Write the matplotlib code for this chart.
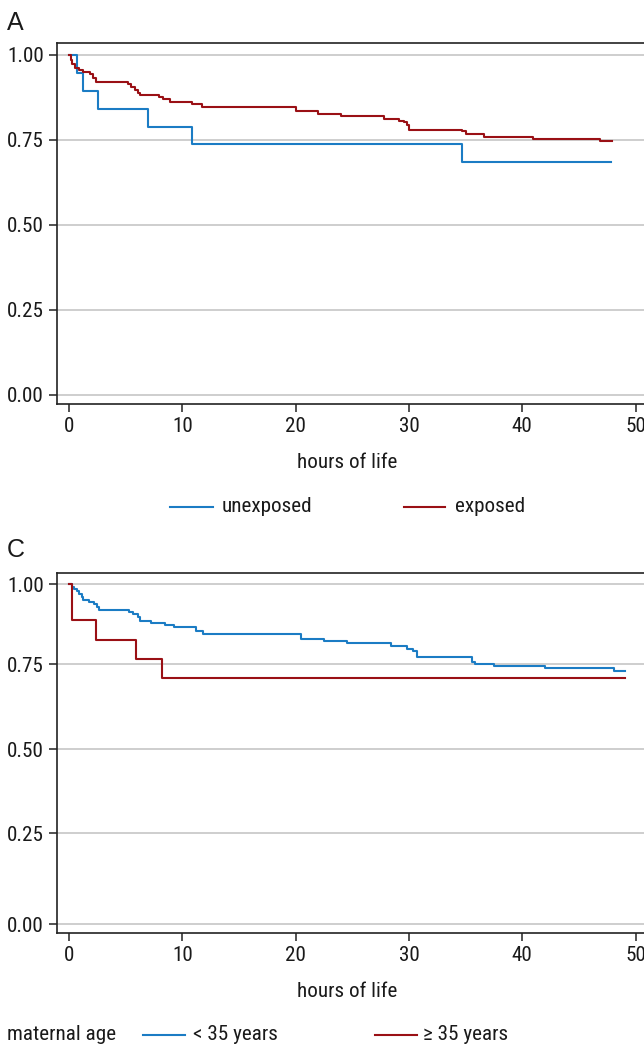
import numpy as np
import matplotlib
matplotlib.use("Agg")
import matplotlib.pyplot as plt
from matplotlib.lines import Line2D
from matplotlib import font_manager as fm

# ---------------- data ----------------
# Panel A: survival by exposure
a_unexp_t = [0, 0.73, 1.2, 2.6, 6.96, 10.9, 34.7, 47.8]
a_unexp_s = [1.0, 0.947, 0.895, 0.842, 0.789, 0.737, 0.684, 0.684]

a_exp_t = [0, 0.2, 0.3, 0.55, 0.9, 1.2, 1.86, 2.15, 2.4, 5.25, 5.5, 5.8, 6.1, 6.3,
           7.96, 8.3, 8.9, 10.9, 11.7, 20.0, 22.0, 24.0, 27.8, 29.1, 29.6, 29.8,
           30.0, 34.7, 35.0, 36.6, 40.96, 46.9, 47.9]
a_exp_s = [1.0, 0.985, 0.973, 0.963, 0.956, 0.949, 0.944, 0.933, 0.920, 0.915,
           0.907, 0.897, 0.889, 0.882, 0.875, 0.870, 0.862, 0.855, 0.847, 0.835,
           0.826, 0.819, 0.813, 0.807, 0.802, 0.794, 0.779, 0.775, 0.767, 0.760,
           0.754, 0.746, 0.746]

# Panel C: survival by maternal age
c_young_t = [0, 0.3, 0.47, 0.68, 0.91, 1.12, 1.27, 1.8, 2.24, 2.45, 2.65, 5.3, 5.68,
             6.12, 6.27, 7.24, 8.47, 9.27, 11.18, 11.85, 20.48, 22.5, 24.56, 28.4,
             29.86, 30.4, 30.7, 35.6, 35.8, 37.5, 42.0, 48.1, 49.1]
c_young_s = [1.0, 0.992, 0.985, 0.978, 0.970, 0.961, 0.951, 0.944, 0.937, 0.928,
             0.920, 0.914, 0.908, 0.896, 0.886, 0.880, 0.871, 0.865, 0.853, 0.843,
             0.829, 0.823, 0.815, 0.806, 0.798, 0.792, 0.771, 0.757, 0.750, 0.743,
             0.737, 0.730, 0.730]

c_old_t = [0, 0.24, 2.38, 5.89, 8.24, 49.1]
c_old_s = [1.0, 0.888, 0.826, 0.766, 0.710, 0.710]

x_ticks = [0, 10, 20, 30, 40, 50]
y_ticks = [0.0, 0.25, 0.5, 0.75, 1.0]
y_ticklabels = ["0.00", "0.25", "0.50", "0.75", "1.00"]

panel_a_labels = ["unexposed", "exposed"]
panel_c_title = "maternal age"
panel_c_labels = ["< 35 years", "\u2265 35 years"]
x_label = "hours of life"

BLUE = "#1b7cc4"
RED = "#9a1015"
GRID = "#c6c6c6"
SPINE = "#222222"
TEXT = "#1a1a1a"


def pick_font(cands, default="DejaVu Sans"):
    for name in cands:
        try:
            fm.findfont(fm.FontProperties(family=name), fallback_to_default=False)
            return name
        except Exception:
            continue
    return default


NARROW = pick_font(["Nimbus Sans Narrow", "Liberation Sans Narrow", "Arial Narrow",
                    "Roboto Condensed", "Archivo Narrow", "PT Sans Narrow",
                    "Pragati Narrow", "IBM Plex Sans Condensed", "Fira Sans Condensed",
                    "Open Sans Condensed", "Barlow Semi Condensed", "Liberation Sans"])
REGULAR = pick_font(["Liberation Sans", "Arimo", "Nimbus Sans", "DejaVu Sans"])

FONT = [NARROW, "DejaVu Sans"]
plt.rcParams["font.family"] = FONT
FS = 15.2
LW = 1.5

W, H = 644, 1048
fig = plt.figure(figsize=(W / 100, H / 100), dpi=100)


def fx(px):
    return px / W


def fy(py):
    return 1 - py / H


# uneven y spacing of panel C in the original (value -> relative position)
_cv = [0.0, 0.25, 0.5, 0.75, 1.0]
_cp = [0.0, 91.3, 175.3, 260.3, 340.0]


def _pw(x, xp, fp):
    x = np.asarray(x, dtype=float)
    y = np.interp(x, xp, fp)
    y = np.where(x < xp[0], fp[0] + (x - xp[0]) * (fp[1] - fp[0]) / (xp[1] - xp[0]), y)
    y = np.where(x > xp[-1], fp[-1] + (x - xp[-1]) * (fp[-1] - fp[-2]) / (xp[-1] - xp[-2]), y)
    return y


def c_forward(v):
    return _pw(v, _cv, _cp)


def c_inverse(p):
    return _pw(p, _cp, _cv)


LEFT_PX, RIGHT_PX = 57.3, 660.0
X0_PX, XSCALE = 69.0, 11.33


def make_axes(top_px, bot_px, ylim, custom_scale=False):
    ax = fig.add_axes([fx(LEFT_PX), fy(bot_px), fx(RIGHT_PX - LEFT_PX), (bot_px - top_px) / H])
    if custom_scale:
        ax.set_yscale("function", functions=(c_forward, c_inverse))
    ax.set_xlim((LEFT_PX - X0_PX) / XSCALE, (RIGHT_PX - X0_PX) / XSCALE)
    ax.set_ylim(*ylim)
    ax.set_xticks(x_ticks)
    ax.set_xticklabels([str(t) for t in x_ticks])
    ax.set_yticks(y_ticks)
    ax.set_yticklabels(y_ticklabels)
    ax.yaxis.set_minor_locator(matplotlib.ticker.NullLocator())
    ax.tick_params(axis="both", direction="out", length=5.8, width=1.1, color=SPINE,
                   labelsize=FS, labelcolor=TEXT)
    ax.tick_params(axis="y", pad=4.0)
    ax.tick_params(axis="x", pad=3.5)
    for s in ["left", "top", "bottom"]:
        ax.spines[s].set_color(SPINE)
        ax.spines[s].set_linewidth(1.2)
    ax.spines["right"].set_visible(False)
    ax.grid(axis="y", color=GRID, linewidth=1.2)
    ax.set_axisbelow(True)
    return ax


# ---------------- Panel A ----------------
axA = make_axes(42.7, 404.0, (-0.0265, 1.036))
axA.step(a_unexp_t, a_unexp_s, where="post", color=BLUE, lw=LW, label=panel_a_labels[0])
axA.step(a_exp_t, a_exp_s, where="post", color=RED, lw=LW, label=panel_a_labels[1])

fig.text(fx(7.0), fy(30), "A", fontsize=18, family=[REGULAR, "DejaVu Sans"],
         color=TEXT, va="baseline", ha="left")
fig.text(fx(347.5), fy(468), x_label, fontsize=FS, color=TEXT, ha="center", va="baseline")

# legend A
for (x0, x1), col, lab, tx in [((170.4, 212.7), BLUE, panel_a_labels[0], 221.8),
                               ((403.7, 444.8), RED, panel_a_labels[1], 454.6)]:
    fig.add_artist(Line2D([fx(x0), fx(x1)], [fy(507.3), fy(507.3)], color=col, lw=LW,
                          transform=fig.transFigure))
    fig.text(fx(tx), fy(512.5), lab, fontsize=FS, color=TEXT, ha="left", va="baseline")

# ---------------- Panel C ----------------
axC = make_axes(572.7, 933.3, (-0.0246, 1.0364), custom_scale=True)
axC.step(c_young_t, c_young_s, where="post", color=BLUE, lw=LW, label=panel_c_labels[0])
axC.step(c_old_t, c_old_s, where="post", color=RED, lw=LW, label=panel_c_labels[1])

fig.text(fx(7.0), fy(556.7), "C", fontsize=18, family=[REGULAR, "DejaVu Sans"],
         color=TEXT, va="baseline", ha="left")
fig.text(fx(347.5), fy(997), x_label, fontsize=FS, color=TEXT, ha="center", va="baseline")

fig.text(fx(7.4), fy(1040), panel_c_title, fontsize=FS, color=TEXT, ha="left", va="baseline")
for (x0, x1), col, lab, tx in [((143.0, 184.8), BLUE, panel_c_labels[0], 193.0),
                               ((375.0, 416.8), RED, panel_c_labels[1], 423.0)]:
    fig.add_artist(Line2D([fx(x0), fx(x1)], [fy(1035), fy(1035)], color=col, lw=LW,
                          transform=fig.transFigure))
    fig.text(fx(tx), fy(1040), lab, fontsize=FS, color=TEXT, ha="left", va="baseline")

fig.savefig("out.png", dpi=100)
